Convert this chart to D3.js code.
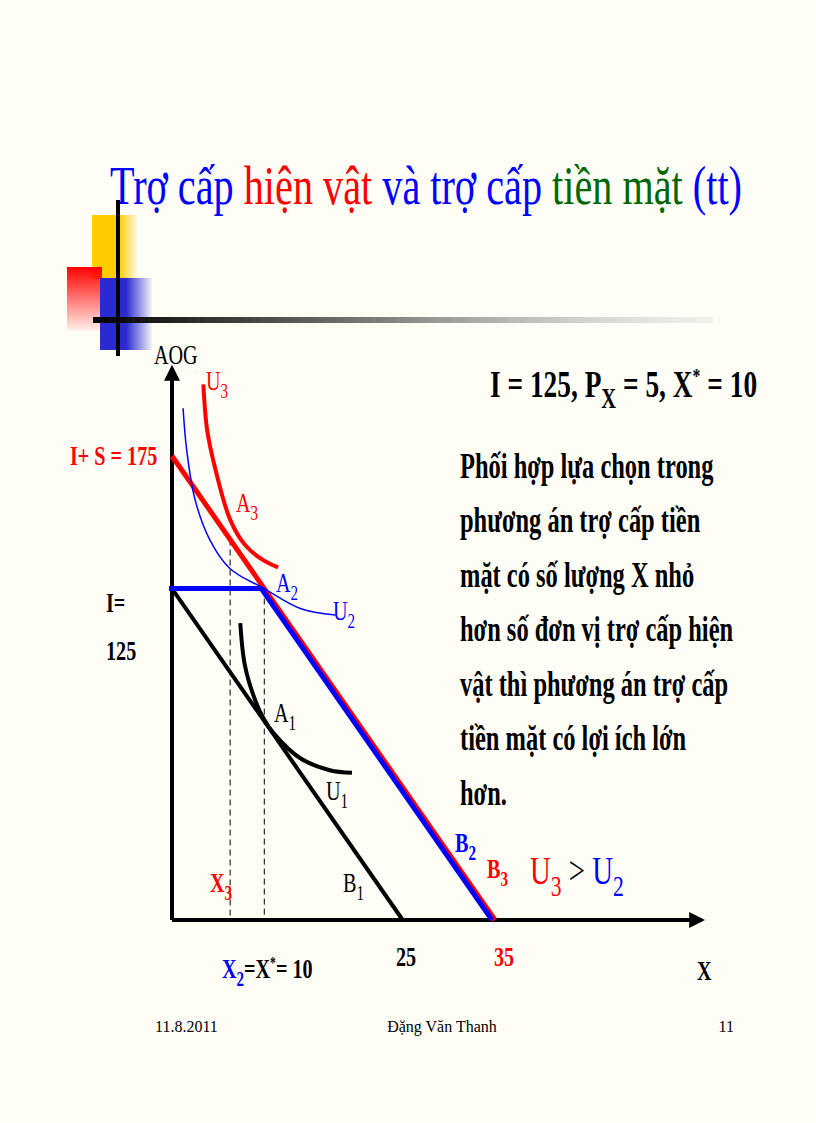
<!DOCTYPE html>
<html><head><meta charset="utf-8">
<script src="https://cdn.jsdelivr.net/npm/d3@7"></script>
<style>body{margin:0;background:#fffef6}svg{display:block}text{font-family:"Liberation Serif",serif}</style>
</head><body>
<script>
// budget lines (X, AOG)
var lineB1 = [[0, 125], [25, 0]];
var lineB3 = [[0, 175], [35, 0]];
var lineB2 = [[0, 125], [10, 125], [35, 0]];
// indifference curves
var curveU3 = [[3.4, 202], [3.8, 185], [4.7, 170], [6.3, 151], [7.9, 141.5], [9.75, 136], [11.5, 133]];
var curveU2 = [[1.2, 193], [1.6, 177], [2.5, 158.5], [4.1, 143.4], [6.3, 132.5], [10, 125], [13.9, 117.5], [17.7, 115]];
var curveU1 = [[7.4, 112], [7.9, 96], [9, 83], [10, 75.5], [11, 70.5], [13.9, 61], [17.1, 56.5], [19.5, 55.5]];
var guideX = [6.3, 10];
var bodyLines = [" Phối hợp lựa chọn trong", "phương án trợ cấp tiền", "mặt có số lượng X nhỏ",
  "hơn số đơn vị trợ cấp hiện", "vật thì phương án trợ cấp", "tiền mặt có  lợi ích lớn", "hơn."];

var svg = d3.select("body").append("svg").attr("width", 816).attr("height", 1123);
var defs = svg.append("defs");
function grad(id, stops, x2, y2) {
  var g = defs.append("linearGradient").attr("id", id).attr("x2", x2).attr("y2", y2);
  stops.forEach(function(s) { g.append("stop").attr("offset", s[0]).attr("stop-color", s[1]).attr("stop-opacity", s[2]); });
}
grad("gy", [[0, "#ffcc00", 1], [0.6, "#ffcc00", 1], [1, "#ffcc00", 0.1]], 1, 0);
grad("gr", [[0, "#ff0000", 1], [1, "#ff0000", 0.05]], 0, 1);
grad("gb", [[0, "#2a2ad0", 1], [0.5, "#2a2ad0", 1], [1, "#2a2ad0", 0.05]], 1, 0);
grad("gl", [[0, "#000", 1], [0.5, "#888", 1], [1, "#ddd", 0.4]], 1, 0);

function squeeze(el, px, py, s) {
  return el.attr("transform", "translate(" + px + "," + py + ") scale(" + s + ",1) translate(" + (-px) + "," + (-py) + ")");
}

// title
var title = squeeze(svg.append("text").attr("x", 110).attr("y", 204).attr("font-size", 54), 110, 204, 0.745);
[["Trợ cấp ", "#0000ff"], ["hiện vật", "#ff0000"], [" và trợ cấp ", "#0000ff"], ["tiền mặt", "#006600"], [" (tt)", "#0000ff"]]
  .forEach(function(p) { title.append("tspan").attr("fill", p[1]).text(p[0]); });

// decoration
svg.append("rect").attr("x", 92).attr("y", 215).attr("width", 45).attr("height", 64).attr("fill", "url(#gy)");
svg.append("rect").attr("x", 67).attr("y", 267).attr("width", 35).attr("height", 64).attr("fill", "url(#gr)");
svg.append("rect").attr("x", 100).attr("y", 278).attr("width", 52).attr("height", 72).attr("fill", "url(#gb)");
svg.append("rect").attr("x", 93).attr("y", 317).attr("width", 620).attr("height", 6).attr("fill", "url(#gl)");
svg.append("line").attr("x1", 118).attr("x2", 118).attr("y1", 200).attr("y2", 356).attr("stroke", "#000").attr("stroke-width", 4);

var x = d3.scaleLinear().domain([0, 35]).range([172, 495]);
var y = d3.scaleLinear().domain([0, 175]).range([920, 456]);
var lineFn = d3.line().x(function(d) { return x(d[0]); }).y(function(d) { return y(d[1]); });
var curve = d3.line().x(function(d) { return x(d[0]); }).y(function(d) { return y(d[1]); }).curve(d3.curveCatmullRom);

// axes with arrows
defs.append("marker").attr("id", "ar").attr("viewBox", "0 0 10 10").attr("refX", 8).attr("refY", 5)
  .attr("markerWidth", 4).attr("markerHeight", 4).attr("orient", "auto")
  .append("path").attr("d", "M0,0L10,5L0,10z").attr("fill", "#000");
svg.append("line").attr("x1", x(0)).attr("y1", y(0)).attr("x2", x(0)).attr("y2", 368)
  .attr("stroke", "#000").attr("stroke-width", 4).attr("marker-end", "url(#ar)");
svg.append("line").attr("x1", x(0)).attr("y1", y(0)).attr("x2", 702).attr("y2", y(0))
  .attr("stroke", "#000").attr("stroke-width", 4).attr("marker-end", "url(#ar)");

// dashed guides
svg.selectAll(".g").data(guideX).enter().append("line")
  .attr("x1", function(d) { return x(d); }).attr("x2", function(d) { return x(d); })
  .attr("y1", function(d) { return y(175 - 5 * d); }).attr("y2", y(0))
  .attr("stroke", "#000").attr("stroke-dasharray", "6,4");

svg.append("path").attr("d", lineFn(lineB1)).attr("stroke", "#000").attr("stroke-width", 4).attr("fill", "none");
svg.append("path").attr("d", lineFn(lineB3)).attr("stroke", "#ff0000").attr("stroke-width", 5).attr("fill", "none");
svg.append("path").attr("d", lineFn(lineB2)).attr("transform", "translate(-3,0)")
  .attr("stroke", "#0000ff").attr("stroke-width", 5).attr("fill", "none");
svg.append("path").attr("d", curve(curveU2)).attr("stroke", "#0000ff").attr("stroke-width", 1.5).attr("fill", "none");
svg.append("path").attr("d", curve(curveU3)).attr("stroke", "#ff0000").attr("stroke-width", 4).attr("fill", "none");
svg.append("path").attr("d", curve(curveU1)).attr("stroke", "#000").attr("stroke-width", 4).attr("fill", "none");

// labels
function lab(t, sub, px, py, col, fs, bold) {
  fs = fs || 28;
  var el = squeeze(svg.append("text").attr("x", px).attr("y", py).attr("fill", col).attr("font-size", fs)
    .attr("font-weight", bold ? "bold" : null), px, py, 0.72);
  el.append("tspan").text(t);
  if (sub) el.append("tspan").attr("dy", fs * 0.3).attr("font-size", fs * 0.75).text(sub);
  return el;
}
lab("AOG", null, 154, 364, "#000", 28);
lab("U", "3", 206, 390, "#ff0000");
lab("I+ S = 175", null, 70, 465, "#ff0000", 28, true);
lab("A", "3", 236, 512, "#ff0000");
lab("A", "2", 276, 592, "#0000ff");
lab("U", "2", 333, 620, "#0000ff");
lab("I=", null, 106, 612, "#000", 28, true);
lab("125", null, 106, 660, "#000", 28, true);
lab("A", "1", 274, 722, "#000");
lab("U", "1", 326, 800, "#000");
lab("B", "2", 455, 852, "#0000ff", 28, true);
lab("B", "3", 487, 878, "#ff0000", 28, true);
lab("X", "3", 210, 892, "#ff0000", 28, true);
lab("B", "1", 343, 892, "#000");
lab("25", null, 396, 966, "#000", 28, true);
lab("35", null, 494, 966, "#ff0000", 28, true);
lab("X", null, 697, 980, "#000", 28, true);
var xl = lab("X", "2", 222, 978, "#0000ff", 28, true);
xl.append("tspan").attr("dy", -8).attr("fill", "#000").text("=X");
xl.append("tspan").attr("dy", -10).attr("font-size", 16).attr("fill", "#000").text("*");
xl.append("tspan").attr("dy", 10).attr("fill", "#000").text("= 10");

var u = lab("U", "3", 530, 884, "#ff0000", 40);
u.append("tspan").attr("dy", -12).attr("fill", "#000").attr("font-size", 40).text(" > ");
u.append("tspan").attr("fill", "#0000ff").attr("font-size", 40).text("U");
u.append("tspan").attr("dy", 12).attr("fill", "#0000ff").attr("font-size", 30).text("2");

var h = lab("I = 125, P", "X", 490, 397, "#000", 38, true);
h.append("tspan").attr("dy", -11).attr("font-size", 38).text(" = 5, X");
h.append("tspan").attr("dy", -14).attr("font-size", 22).text("*");
h.append("tspan").attr("dy", 14).attr("font-size", 38).text(" = 10");

svg.selectAll(".bl").data(bodyLines).enter().append("text")
  .attr("x", 460).attr("y", function(d, i) { return 478 + i * 54.5; })
  .attr("font-size", 36).attr("font-weight", "bold")
  .attr("transform", function(d, i) { var py = 478 + i * 54.5; return "translate(460," + py + ") scale(0.68,1) translate(-460," + (-py) + ")"; })
  .text(function(d) { return d; });

// footer
svg.append("text").attr("x", 155).attr("y", 1032).attr("font-size", 16).text("11.8.2011");
svg.append("text").attr("x", 442).attr("y", 1032).attr("font-size", 16).attr("text-anchor", "middle").text("Đặng Văn Thanh");
svg.append("text").attr("x", 734).attr("y", 1032).attr("font-size", 16).attr("text-anchor", "end").text("11");
</script>
</body></html>
